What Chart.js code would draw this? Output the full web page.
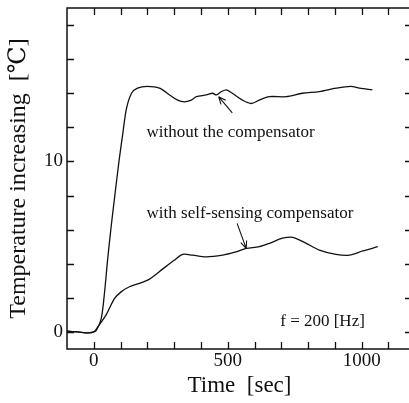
<!DOCTYPE html>
<html>
<head>
<meta charset="utf-8">
<script src="https://cdn.jsdelivr.net/npm/chart.js@4/dist/chart.umd.min.js"></script>
<style>
  html, body { margin: 0; padding: 0; background: #fff; overflow: hidden; }
  #wrap { width: 420px; height: 403px; }
</style>
</head>
<body>
<div id="wrap"><canvas id="tempChart" width="420" height="403"></canvas></div>
<script>
// temperature rise, no compensator
const time1 = [-100, -60, -20, 0, 10, 28, 40, 52, 65, 77, 94, 108, 122, 141, 163, 200, 245, 283, 313, 338, 364, 383, 420, 443, 458, 477, 495, 517, 555, 588, 618, 655, 718, 779, 842, 905, 960, 992, 1040];
const temp1 = [0.04, 0, -0.05, 0, 0.1, 0.8, 2.3, 4.3, 6.2, 7.8, 10.0, 11.6, 13.1, 14.0, 14.3, 14.4, 14.3, 13.9, 13.6, 13.5, 13.6, 13.8, 13.9, 14.0, 13.9, 14.1, 14.2, 14.0, 13.6, 13.4, 13.6, 13.8, 13.8, 14.0, 14.1, 14.3, 14.4, 14.3, 14.2];

// temperature rise, self-sensing compensator
const time2 = [-100, -60, -20, 0, 15, 46, 77, 102, 133, 170, 208, 258, 300, 332, 369, 419, 481, 531, 569, 618, 656, 705, 743, 793, 842, 904, 954, 1004, 1060];
const temp2 = [0.04, 0, -0.05, 0, 0.3, 1.0, 1.95, 2.35, 2.65, 2.85, 3.1, 3.7, 4.2, 4.55, 4.5, 4.4, 4.5, 4.7, 4.9, 5.0, 5.2, 5.5, 5.55, 5.2, 4.8, 4.55, 4.5, 4.75, 5.0];

const xTickValues = [0, 100, 200, 300, 400, 500, 600, 700, 800, 900, 1000, 1100];
const xTickLabels = [0, 500, 1000];
const yTickValues = [0, 2, 4, 6, 8, 10, 12, 14, 16, 18];
const yTickLabels = [0, 10];

const serif = "'Liberation Serif', 'DejaVu Serif', serif";
const ink = "#111";

const toPoints = (xs, ys) => xs.map((x, i) => ({ x: x, y: ys[i] }));

// inward tick marks on all four sides plus the closed frame
const frameTicks = {
  id: "frameTicks",
  afterDraw(chart) {
    const { ctx, chartArea: a, scales } = chart;
    const len = 7;
    ctx.save();
    ctx.strokeStyle = ink;
    ctx.lineWidth = 1.3;
    ctx.beginPath();
    scales.x.ticks.forEach((t) => {
      const px = Math.round(scales.x.getPixelForValue(t.value)) + 0.5;
      ctx.moveTo(px, a.bottom); ctx.lineTo(px, a.bottom - len);
      ctx.moveTo(px, a.top); ctx.lineTo(px, a.top + len);
    });
    scales.y.ticks.forEach((t) => {
      const py = Math.round(scales.y.getPixelForValue(t.value)) + 0.5;
      ctx.moveTo(a.left, py); ctx.lineTo(a.left + len, py);
      ctx.moveTo(a.right, py); ctx.lineTo(a.right - len, py);
    });
    ctx.stroke();
    ctx.lineWidth = 1.5;
    ctx.strokeRect(a.left, a.top, a.right - a.left, a.bottom - a.top);
    ctx.restore();
  },
};

// curve labels with pointer arrows, placed in data units
const notes = [
  { text: "without the compensator", x: 197, y: 11.7, from: [517, 12.85], to: [466, 13.8] },
  { text: "with self-sensing compensator", x: 197, y: 6.96, from: [535, 6.37], to: [569, 4.9] },
  { text: "f = 200 [Hz]", x: 696, y: 0.62 },
];

const annotations = {
  id: "annotations",
  afterDatasetsDraw(chart) {
    const { ctx, scales } = chart;
    const sx = (v) => scales.x.getPixelForValue(v);
    const sy = (v) => scales.y.getPixelForValue(v);
    ctx.save();
    ctx.fillStyle = ink;
    ctx.strokeStyle = ink;
    ctx.lineWidth = 1.1;
    ctx.font = "17px " + serif;
    ctx.textAlign = "left";
    ctx.textBaseline = "middle";
    notes.forEach((n) => {
      ctx.fillText(n.text, sx(n.x), sy(n.y));
      if (!n.from) return;
      const x0 = sx(n.from[0]), y0 = sy(n.from[1]);
      const x1 = sx(n.to[0]), y1 = sy(n.to[1]);
      const ang = Math.atan2(y1 - y0, x1 - x0);
      const head = 8;
      ctx.beginPath();
      ctx.moveTo(x0, y0); ctx.lineTo(x1, y1);
      ctx.moveTo(x1, y1);
      ctx.lineTo(x1 - head * Math.cos(ang - 0.4), y1 - head * Math.sin(ang - 0.4));
      ctx.moveTo(x1, y1);
      ctx.lineTo(x1 - head * Math.cos(ang + 0.4), y1 - head * Math.sin(ang + 0.4));
      ctx.stroke();
    });
    ctx.restore();
  },
};

new Chart(document.getElementById("tempChart"), {
  type: "line",
  data: {
    datasets: [
      { data: toPoints(time1, temp1) },
      { data: toPoints(time2, temp2) },
    ],
  },
  options: {
    responsive: false,
    animation: false,
    devicePixelRatio: 1,
    layout: { padding: { top: 8, right: 8, left: 0, bottom: 0 } },
    elements: {
      point: { radius: 0 },
      line: { borderColor: ink, borderWidth: 1.3, tension: 0.3, fill: false },
    },
    plugins: {
      legend: { display: false },
      tooltip: { enabled: false },
    },
    scales: {
      x: {
        type: "linear",
        min: -100,
        max: 1188,
        afterFit: (scale) => {
          scale.height = 54;
          scale.paddingLeft = 0;
          scale.paddingRight = 0;
        },
        afterBuildTicks: (scale) => { scale.ticks = xTickValues.map((v) => ({ value: v })); },
        grid: { display: false, drawTicks: false },
        border: { display: false },
        ticks: {
          autoSkip: false,
          maxRotation: 0,
          padding: 1,
          color: ink,
          font: { family: serif, size: 19 },
          callback: (v) => (xTickLabels.includes(v) ? String(v) : ""),
        },
        title: {
          display: true,
          text: "Time  [sec]",
          color: ink,
          font: { family: serif, size: 23 },
          padding: { top: 0, bottom: 3 },
        },
      },
      y: {
        type: "linear",
        min: -1,
        max: 19,
        afterFit: (scale) => {
          scale.width = 67;
          scale.paddingTop = 0;
          scale.paddingBottom = 0;
        },
        afterBuildTicks: (scale) => { scale.ticks = yTickValues.map((v) => ({ value: v })); },
        grid: { display: false, drawTicks: false },
        border: { display: false },
        ticks: {
          autoSkip: false,
          padding: 4,
          color: ink,
          font: { family: serif, size: 19 },
          callback: (v) => (yTickLabels.includes(v) ? String(v) : ""),
        },
        title: {
          display: true,
          text: "Temperature increasing  [℃]",
          color: ink,
          font: { family: serif, size: 24 },
          padding: { top: 4, bottom: 0 },
        },
      },
    },
  },
  plugins: [frameTicks, annotations],
});
</script>
</body>
</html>
